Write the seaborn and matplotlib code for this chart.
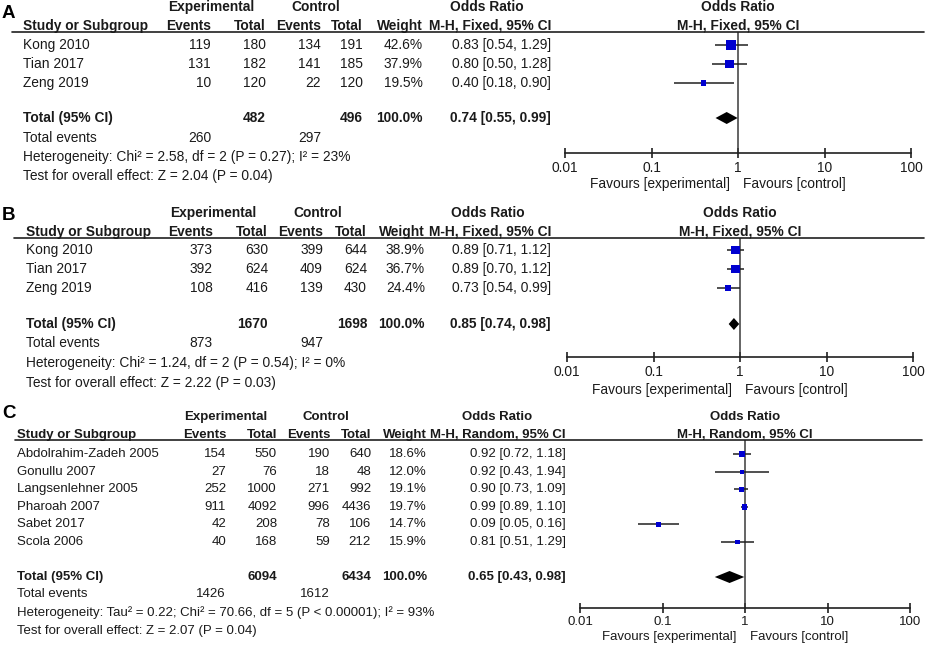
import numpy as np
import pandas as pd
import matplotlib
matplotlib.use("Agg")
import matplotlib.pyplot as plt
from matplotlib.lines import Line2D
import seaborn as sns

# ---------------- data ----------------
A_studies = ["Kong 2010", "Tian 2017", "Zeng 2019"]
A_exp_events = [119, 131, 10]
A_exp_total = [180, 182, 120]
A_ctl_events = [134, 141, 22]
A_ctl_total = [191, 185, 120]
A_weight = [42.6, 37.9, 19.5]
A_or = [0.83, 0.80, 0.40]
A_lo = [0.54, 0.50, 0.18]
A_hi = [1.29, 1.28, 0.90]
A_tot = dict(exp_total=482, ctl_total=496, exp_events=260, ctl_events=297,
             est=0.74, lo=0.55, hi=0.99,
             het="Heterogeneity: Chi\u00b2 = 2.58, df = 2 (P = 0.27); I\u00b2 = 23%",
             test="Test for overall effect: Z = 2.04 (P = 0.04)",
             method="M-H, Fixed, 95% CI")

B_studies = ["Kong 2010", "Tian 2017", "Zeng 2019"]
B_exp_events = [373, 392, 108]
B_exp_total = [630, 624, 416]
B_ctl_events = [399, 409, 139]
B_ctl_total = [644, 624, 430]
B_weight = [38.9, 36.7, 24.4]
B_or = [0.89, 0.89, 0.73]
B_lo = [0.71, 0.70, 0.54]
B_hi = [1.12, 1.12, 0.99]
B_tot = dict(exp_total=1670, ctl_total=1698, exp_events=873, ctl_events=947,
             est=0.85, lo=0.74, hi=0.98,
             het="Heterogeneity: Chi\u00b2 = 1.24, df = 2 (P = 0.54); I\u00b2 = 0%",
             test="Test for overall effect: Z = 2.22 (P = 0.03)",
             method="M-H, Fixed, 95% CI")

C_studies = ["Abdolrahim-Zadeh 2005", "Gonullu 2007", "Langsenlehner 2005",
             "Pharoah 2007", "Sabet 2017", "Scola 2006"]
C_exp_events = [154, 27, 252, 911, 42, 40]
C_exp_total = [550, 76, 1000, 4092, 208, 168]
C_ctl_events = [190, 18, 271, 996, 78, 59]
C_ctl_total = [640, 48, 992, 4436, 106, 212]
C_weight = [18.6, 12.0, 19.1, 19.7, 14.7, 15.9]
C_or = [0.92, 0.92, 0.90, 0.99, 0.09, 0.81]
C_lo = [0.72, 0.43, 0.73, 0.89, 0.05, 0.51]
C_hi = [1.18, 1.94, 1.09, 1.10, 0.16, 1.29]
C_tot = dict(exp_total=6094, ctl_total=6434, exp_events=1426, ctl_events=1612,
             est=0.65, lo=0.43, hi=0.98,
             het="Heterogeneity: Tau\u00b2 = 0.22; Chi\u00b2 = 70.66, df = 5 (P < 0.00001); I\u00b2 = 93%",
             test="Test for overall effect: Z = 2.07 (P = 0.04)",
             method="M-H, Random, 95% CI")

tick_values = [0.01, 0.1, 1, 10, 100]
tick_labels = ["0.01", "0.1", "1", "10", "100"]

# ---------------- layout (pixels) ----------------
W, H = 927, 647
LAYOUT = {
    "A": dict(label_y=14, h1=7, h2=26, line=32, row0=45, step=19, total=118, tev=138,
              het=157, test=176, axis=153, x0=565, x1=911, ticklab=166, fav=184,
              cols=[23, 211, 266, 321, 363, 423, 551], exp_c=211, ctl_c=316, or_c=487,
              lx0=12, lx1=924, fs=9.9),
    "B": dict(label_y=216, h1=213, h2=232, line=238, row0=250, step=19, total=324, tev=343,
              het=363, test=383, axis=357, x0=567, x1=913, ticklab=373, fav=390,
              cols=[26, 213, 268, 323, 367, 425, 551], exp_c=213, ctl_c=318, or_c=488,
              lx0=14, lx1=924, fs=9.9),
    "C": dict(label_y=413, h1=417, h2=435, line=440, row0=454, step=17.6, total=577, tev=594,
              het=613, test=631, axis=608, x0=580, x1=910, ticklab=622, fav=637,
              cols=[17, 226, 277, 330, 371, 427, 566], exp_c=226, ctl_c=326, or_c=497,
              lx0=15, lx1=922, fs=9.55),
}

sns.set_theme(style="white")
plt.rcParams["font.family"] = ["Liberation Sans", "DejaVu Sans"]

fig = plt.figure(figsize=(W / 100, H / 100), dpi=100)
fig.patch.set_facecolor("white")


def T(x, y, s, size, ha="left", bold=False, color="#1a1a1a"):
    fig.text(x / W, 1 - y / H, s, ha=ha, va="center", fontsize=size,
             fontweight="bold" if bold else "normal", color=color)


def panel(key, studies, ee, et, ce, ct, wt, orv, lo, hi, tot):
    L = LAYOUT[key]
    c = L["cols"]
    fs = L["fs"]
    T(2, L["label_y"], key, 13.5, bold=True, color="black")
    # headers
    T(L["exp_c"], L["h1"], "Experimental", fs, ha="center", bold=True)
    T(L["ctl_c"], L["h1"], "Control", fs, ha="center", bold=True)
    T(L["or_c"], L["h1"], "Odds Ratio", fs, ha="center", bold=True)
    T(c[0], L["h2"], "Study or Subgroup", fs, bold=True)
    T(c[1], L["h2"], "Events", fs, ha="right", bold=True)
    T(c[2], L["h2"], "Total", fs, ha="right", bold=True)
    T(c[3], L["h2"], "Events", fs, ha="right", bold=True)
    T(c[4], L["h2"], "Total", fs, ha="right", bold=True)
    T(c[5], L["h2"], "Weight", fs, ha="right", bold=True)
    T(c[6], L["h2"], tot["method"], fs, ha="right", bold=True)
    fig.add_artist(Line2D([L["lx0"] / W, L["lx1"] / W], [1 - L["line"] / H] * 2,
                          transform=fig.transFigure, color="#202020", lw=1.2))
    ys = [L["row0"] + i * L["step"] for i in range(len(studies))]
    for i, y in enumerate(ys):
        T(c[0], y, studies[i], fs)
        T(c[1], y, str(ee[i]), fs, ha="right")
        T(c[2], y, str(et[i]), fs, ha="right")
        T(c[3], y, str(ce[i]), fs, ha="right")
        T(c[4], y, str(ct[i]), fs, ha="right")
        T(c[5], y, f"{wt[i]:.1f}%", fs, ha="right")
        T(c[6], y, f"{orv[i]:.2f} [{lo[i]:.2f}, {hi[i]:.2f}]", fs, ha="right")
    y = L["total"]
    T(c[0], y, "Total (95% CI)", fs, bold=True)
    T(c[2], y, str(tot["exp_total"]), fs, ha="right", bold=True)
    T(c[4], y, str(tot["ctl_total"]), fs, ha="right", bold=True)
    T(c[5], y, "100.0%", fs, ha="right", bold=True)
    T(c[6], y, f"{tot['est']:.2f} [{tot['lo']:.2f}, {tot['hi']:.2f}]", fs, ha="right", bold=True)
    T(c[0], L["tev"], "Total events", fs)
    T(c[1], L["tev"], str(tot["exp_events"]), fs, ha="right")
    T(c[3], L["tev"], str(tot["ctl_events"]), fs, ha="right")
    T(c[0], L["het"], tot["het"], fs)
    T(c[0], L["test"], tot["test"], fs)

    # plot axes
    ax = fig.add_axes([L["x0"] / W, 1 - L["axis"] / H, (L["x1"] - L["x0"]) / W,
                       (L["axis"] - L["line"]) / H])
    ax.set_facecolor("none")
    ax.set_xscale("log")
    ax.set_xlim(0.01, 100)
    ax.set_ylim(L["axis"], L["line"])
    for s in ["top", "left", "right"]:
        ax.spines[s].set_visible(False)
    ax.spines["bottom"].set_color("#202020")
    ax.spines["bottom"].set_linewidth(1.2)
    ax.set_yticks([])
    ax.set_xticks(tick_values)
    ax.set_xticklabels(tick_labels)
    ax.xaxis.set_minor_locator(matplotlib.ticker.NullLocator())
    ax.tick_params(axis="x", direction="inout", length=7, width=1.2, color="#202020",
                   pad=2.5, labelsize=fs, labelcolor="#1a1a1a", bottom=True)
    ax.axvline(1, color="#3a3a3a", lw=1.1, zorder=1)

    df = pd.DataFrame({"or": orv, "lo": lo, "hi": hi, "w": wt, "y": ys})
    ax.hlines(df["y"], df["lo"], df["hi"], color="#202020", lw=1.1, zorder=2)
    side_px = 0.165 * df["w"] + 2.2
    sns.scatterplot(data=df, x="or", y="y", ax=ax, marker="s", color="#0000D0",
                    s=(side_px * 0.72) ** 2, linewidth=0, zorder=3, legend=False)
    hh = 6
    ax.fill([tot["lo"], tot["est"], tot["hi"], tot["est"]],
            [y, y - hh, y, y + hh], color="black", lw=0, zorder=3)
    ax.set_xlabel("")
    ax.set_ylabel("")

    # right headers & favours
    xc = L["x0"] + (L["x1"] - L["x0"]) / 2
    T(xc, L["h1"], "Odds Ratio", fs, ha="center", bold=True)
    T(xc, L["h2"], tot["method"], fs, ha="center", bold=True)
    T(xc - 8, L["fav"], "Favours [experimental]", fs, ha="right")
    T(xc + 5, L["fav"], "Favours [control]", fs, ha="left")


panel("A", A_studies, A_exp_events, A_exp_total, A_ctl_events, A_ctl_total,
      A_weight, A_or, A_lo, A_hi, A_tot)
panel("B", B_studies, B_exp_events, B_exp_total, B_ctl_events, B_ctl_total,
      B_weight, B_or, B_lo, B_hi, B_tot)
panel("C", C_studies, C_exp_events, C_exp_total, C_ctl_events, C_ctl_total,
      C_weight, C_or, C_lo, C_hi, C_tot)

fig.savefig("out.png", dpi=100, facecolor="white")
